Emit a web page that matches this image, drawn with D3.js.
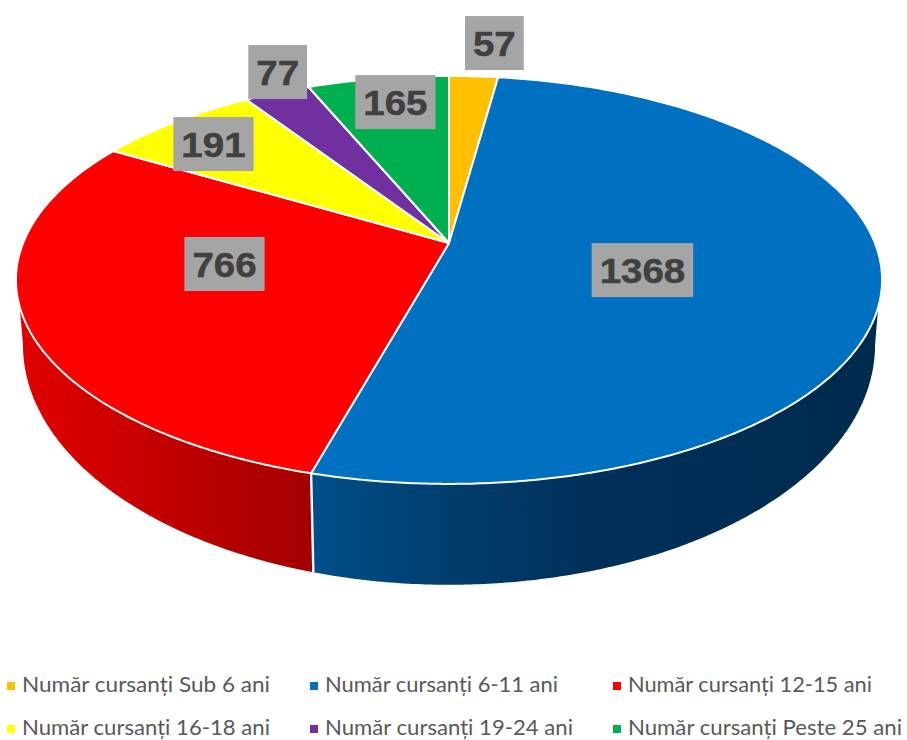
<!DOCTYPE html>
<html><head><meta charset="utf-8">
<script src="https://cdn.jsdelivr.net/npm/d3@7"></script>
<style>html,body{margin:0;padding:0;background:#fff;overflow:hidden}svg{display:block}</style>
</head><body><svg id="c" width="907" height="740"></svg>
<script>
const categories = ["Sub 6 ani","6-11 ani","12-15 ani","16-18 ani","19-24 ani","Peste 25 ani"];
const values = [57,1368,766,191,77,165];
const sliceColors = ["#FFC000","#0070C0","#FF0000","#FFFF00","#7030A0","#00B050"];
const labelAngles = [6.0,106.8,258.6,312.2,335.1,350.0];
const labelRadii = [1.248,0.463,0.5276,0.821,1.133,0.833];

const W=907,H=740,cx=449,k=-0.181,deg=Math.PI/180;
const svg=d3.select("#c");
const rimTop=(t,r=1)=>{const u=r*Math.sin(t),v=-r*Math.cos(t),d=1+k*v;return [cx+425.9*u/d,243+197.3*v/d];};
const rimLow=t=>{const u=Math.sin(t),v=-Math.cos(t),d=1+k*v;return [cx+419*u/d,301.5+232*v/d];};
const arcs=d3.pie().sort(null).value(d=>d).startAngle(0).endAngle(2*Math.PI)(values);
const sample=(a,b,f)=>{const n=Math.max(2,Math.ceil(Math.abs(b-a)/(0.5*deg)));return d3.range(n+1).map(i=>f(a+(b-a)*i/n));};
const line=d3.line();

const defs=svg.append("defs");
const grad=(id,stops)=>{const g=defs.append("linearGradient").attr("id",id).attr("gradientUnits","userSpaceOnUse").attr("x1",0).attr("x2",W).attr("y1",0).attr("y2",0);
 stops.forEach(s=>g.append("stop").attr("offset",s[0]).attr("stop-color",s[1]));};
grad("sideBlue",[[0.34,"#004f8c"],[0.5,"#003d6d"],[0.66,"#003059"],[1,"#002a4d"]]);
grad("sideRed",[[0.02,"#e20000"],[0.34,"#a30000"]]);

// visible side walls (blue and red slices reach the front of the disc)
const blue=arcs[1],red=arcs[2];
const sil={blueTop:107.8*deg,blueLow:100.4*deg,redTop:252.2*deg,redLow:259.6*deg};
const wall=[
 {fill:"url(#sideBlue)",pts:[...sample(sil.blueTop,blue.endAngle,rimTop),...sample(blue.endAngle,sil.blueLow,rimLow)]},
 {fill:"url(#sideRed)",pts:[...sample(red.startAngle,sil.redTop,rimTop),...sample(sil.redLow,red.startAngle,rimLow)]}
];
svg.selectAll("path.wall").data(wall).join("path").attr("class","wall")
 .attr("d",d=>line(d.pts)+"Z").attr("fill",d=>d.fill);
// white seam between walls
svg.append("path").attr("d",line([rimTop(blue.endAngle),rimLow(blue.endAngle)])).attr("stroke","#fff").attr("stroke-width",2.4).attr("fill","none");

// top face
svg.selectAll("path.slice").data(arcs).join("path").attr("class","slice")
 .attr("d",d=>line([rimTop(0,0),...sample(d.startAngle,d.endAngle,rimTop)])+"Z")
 .attr("fill",(d,i)=>sliceColors[i]).attr("stroke","#fff").attr("stroke-width",2).attr("stroke-linejoin","round");

// data labels
const lab=svg.selectAll("g.lab").data(values).join("g").attr("class","lab")
 .attr("transform",(d,i)=>{const p=rimTop(labelAngles[i]*deg,labelRadii[i]);return `translate(${p[0]},${p[1]})`;});
const sx=1.1;
const rects=lab.append("rect").attr("fill","#A5A5A5");
const texts=lab.append("text").text(d=>d).attr("text-anchor","middle").attr("y",13)
 .attr("transform",`scale(${sx},1)`)
 .attr("font-family","'Liberation Sans',Arial,sans-serif").attr("font-weight",700).attr("font-size",35)
 .attr("fill","#404040").attr("stroke","#404040").attr("stroke-width",0.5);
texts.each(function(d,i){const w=this.getComputedTextLength()*sx+16;
 d3.select(rects.nodes()[i]).attr("x",-w/2).attr("y",-27).attr("width",w).attr("height",54);});

// legend
const colX=d3.scaleOrdinal().domain([0,1,2]).range([7,310,613]);
const rowY=d3.scaleOrdinal().domain([0,1]).range([692,735]);
const legendWidths=[248,233,244,248,248,274];
const leg=svg.selectAll("g.leg").data(categories).join("g").attr("class","leg")
 .attr("transform",(d,i)=>`translate(${colX(i%3)},${rowY(Math.floor(i/3))})`);
leg.append("rect").attr("x",0).attr("y",-10).attr("width",8).attr("height",8).attr("fill",(d,i)=>sliceColors[i]);
leg.append("text").attr("x",15).text(d=>"Număr cursanți "+d)
 .attr("textLength",(d,i)=>legendWidths[i]).attr("lengthAdjust","spacingAndGlyphs")
 .attr("font-family","Lato,'Open Sans',sans-serif").attr("font-size",22).attr("fill","#595959");
</script></body></html>
